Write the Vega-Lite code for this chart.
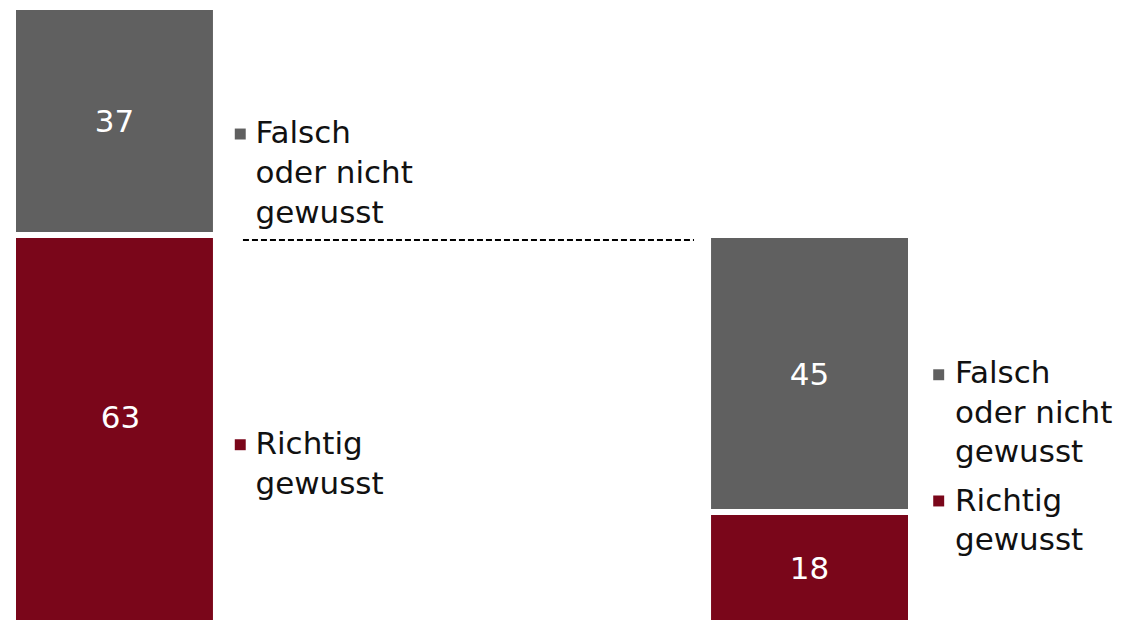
{
  "$schema": "https://vega.github.io/schema/vega-lite/v6.json",
  "width": 898,
  "height": 616,
  "autosize": {"type": "none"},
  "padding": {"left": 13, "top": 7, "right": 211, "bottom": 0},
  "background": "white",
  "config": {"view": {"stroke": null}, "font": "DejaVu Sans"},
  "datasets": {
    "antworten": [
      {"gruppe": "Alle Befragten", "antwort": "Falsch oder nicht gewusst", "anteil": 37},
      {"gruppe": "Alle Befragten", "antwort": "Richtig gewusst", "anteil": 63},
      {"gruppe": "Nachfrage", "antwort": "Falsch oder nicht gewusst", "anteil": 45},
      {"gruppe": "Nachfrage", "antwort": "Richtig gewusst", "anteil": 18}
    ],
    "legende": [
      {"gruppe": "Alle Befragten", "antwort": "Falsch oder nicht gewusst", "zeilen": ["Falsch", "oder nicht", "gewusst"]},
      {"gruppe": "Alle Befragten", "antwort": "Richtig gewusst", "zeilen": ["Richtig", "gewusst"]},
      {"gruppe": "Nachfrage", "antwort": "Falsch oder nicht gewusst", "zeilen": ["Falsch", "oder nicht", "gewusst"]},
      {"gruppe": "Nachfrage", "antwort": "Richtig gewusst", "zeilen": ["Richtig", "gewusst"]}
    ],
    "verbindung": [
      {"von": "Alle Befragten", "bis": "Nachfrage", "anteil": 63}
    ]
  },
  "layer": [
    {
      "data": {"name": "antworten"},
      "transform": [
        {"stack": "anteil", "groupby": ["gruppe"], "sort": [{"field": "antwort", "order": "descending"}], "as": ["unten", "oben"]},
        {"calculate": "(datum.unten + datum.oben) / 2", "as": "mitte"}
      ],
      "layer": [
        {
          "mark": {"type": "bar", "stroke": "white", "strokeWidth": 6},
          "encoding": {
            "x": {"field": "gruppe", "type": "nominal", "scale": {"domain": ["Alle Befragten", "Nachfrage"], "paddingInner": 0.708, "paddingOuter": 0}, "axis": null},
            "y": {"field": "unten", "type": "quantitative", "scale": {"domain": [0, 100], "nice": false, "zero": true}, "axis": null},
            "y2": {"field": "oben"},
            "color": {"field": "antwort", "type": "nominal", "scale": {"domain": ["Falsch oder nicht gewusst", "Richtig gewusst"], "range": ["#606060", "#7a061a"]}, "legend": null}
          }
        },
        {
          "transform": [{"filter": "!(datum.gruppe === 'Alle Befragten' && datum.antwort === 'Richtig gewusst')"}],
          "mark": {"type": "text", "color": "white", "fontSize": 31, "baseline": "middle", "dy": 2},
          "encoding": {
            "x": {"field": "gruppe", "type": "nominal"},
            "y": {"field": "mitte", "type": "quantitative"},
            "text": {"field": "anteil", "type": "quantitative"}
          }
        },
        {
          "transform": [{"filter": "datum.gruppe === 'Alle Befragten' && datum.antwort === 'Richtig gewusst'"}],
          "mark": {"type": "text", "color": "white", "fontSize": 31, "baseline": "middle", "dx": 6, "dy": -10},
          "encoding": {
            "x": {"field": "gruppe", "type": "nominal"},
            "y": {"field": "mitte", "type": "quantitative"},
            "text": {"field": "anteil", "type": "quantitative"}
          }
        }
      ]
    },
    {
      "data": {"name": "verbindung"},
      "mark": {"type": "rule", "color": "#000000", "strokeWidth": 2, "strokeDash": [6, 3], "xOffset": 27, "x2Offset": -115.5, "yOffset": 5},
      "encoding": {
        "x": {"field": "von", "type": "nominal", "bandPosition": 1},
        "x2": {"field": "bis"},
        "y": {"field": "anteil", "type": "quantitative"}
      }
    },
    {
      "data": {"name": "legende"},
      "transform": [{"filter": "datum.gruppe === 'Alle Befragten' && datum.antwort === 'Falsch oder nicht gewusst'"}],
      "layer": [
        {
          "mark": {"type": "point", "shape": "square", "filled": true, "opacity": 1, "size": 120, "xOffset": 24.3},
          "encoding": {
            "x": {"field": "gruppe", "type": "nominal", "bandPosition": 1},
            "y": {"datum": 79.38, "type": "quantitative"},
            "color": {"field": "antwort", "type": "nominal"}
          }
        },
        {
          "mark": {"type": "text", "align": "left", "baseline": "alphabetic", "fontSize": 31, "lineHeight": 40, "color": "#111111", "dx": 39.5},
          "encoding": {
            "x": {"field": "gruppe", "type": "nominal", "bandPosition": 1},
            "y": {"datum": 77.92, "type": "quantitative"},
            "text": {"field": "zeilen"}
          }
        }
      ]
    },
    {
      "data": {"name": "legende"},
      "transform": [{"filter": "datum.gruppe === 'Alle Befragten' && datum.antwort === 'Richtig gewusst'"}],
      "layer": [
        {
          "mark": {"type": "point", "shape": "square", "filled": true, "opacity": 1, "size": 120, "xOffset": 24.3},
          "encoding": {
            "x": {"field": "gruppe", "type": "nominal", "bandPosition": 1},
            "y": {"datum": 28.94, "type": "quantitative"},
            "color": {"field": "antwort", "type": "nominal"}
          }
        },
        {
          "mark": {"type": "text", "align": "left", "baseline": "alphabetic", "fontSize": 31, "lineHeight": 40, "color": "#111111", "dx": 39.5},
          "encoding": {
            "x": {"field": "gruppe", "type": "nominal", "bandPosition": 1},
            "y": {"datum": 27.39, "type": "quantitative"},
            "text": {"field": "zeilen"}
          }
        }
      ]
    },
    {
      "data": {"name": "legende"},
      "transform": [{"filter": "datum.gruppe === 'Nachfrage' && datum.antwort === 'Falsch oder nicht gewusst'"}],
      "layer": [
        {
          "mark": {"type": "point", "shape": "square", "filled": true, "opacity": 1, "size": 120, "xOffset": 27.7},
          "encoding": {
            "x": {"field": "gruppe", "type": "nominal", "bandPosition": 1},
            "y": {"datum": 40.3, "type": "quantitative"},
            "color": {"field": "antwort", "type": "nominal"}
          }
        },
        {
          "mark": {"type": "text", "align": "left", "baseline": "alphabetic", "fontSize": 31, "lineHeight": 39.5, "color": "#111111", "dx": 44},
          "encoding": {
            "x": {"field": "gruppe", "type": "nominal", "bandPosition": 1},
            "y": {"datum": 38.96, "type": "quantitative"},
            "text": {"field": "zeilen"}
          }
        }
      ]
    },
    {
      "data": {"name": "legende"},
      "transform": [{"filter": "datum.gruppe === 'Nachfrage' && datum.antwort === 'Richtig gewusst'"}],
      "layer": [
        {
          "mark": {"type": "point", "shape": "square", "filled": true, "opacity": 1, "size": 120, "xOffset": 27.7},
          "encoding": {
            "x": {"field": "gruppe", "type": "nominal", "bandPosition": 1},
            "y": {"datum": 19.81, "type": "quantitative"},
            "color": {"field": "antwort", "type": "nominal"}
          }
        },
        {
          "mark": {"type": "text", "align": "left", "baseline": "alphabetic", "fontSize": 31, "lineHeight": 39, "color": "#111111", "dx": 44},
          "encoding": {
            "x": {"field": "gruppe", "type": "nominal", "bandPosition": 1},
            "y": {"datum": 18.26, "type": "quantitative"},
            "text": {"field": "zeilen"}
          }
        }
      ]
    }
  ]
}
